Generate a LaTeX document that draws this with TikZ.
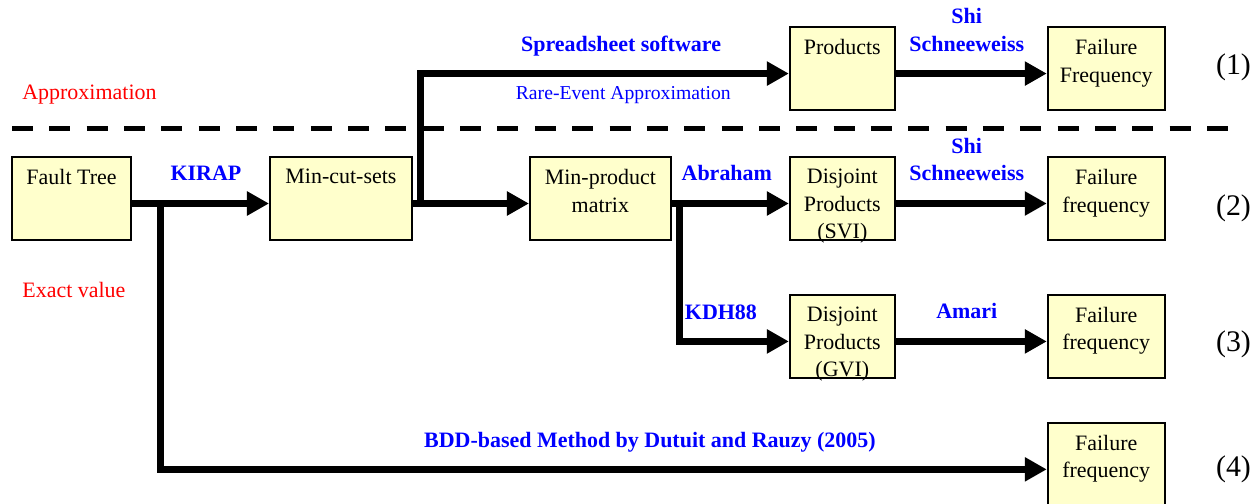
\documentclass[tikz,border=0pt]{standalone}
\usepackage{fontspec}
\setmainfont{Liberation Serif}
\usetikzlibrary{arrows.meta, positioning}

\definecolor{boxfill}{RGB}{255,255,204}

\begin{document}
\begin{tikzpicture}[
    box/.style={draw, rectangle, fill=boxfill, minimum width=2.1cm, minimum height=1.66cm, line width=1.1pt, inner sep=0pt},
    boxtxt/.style={anchor=north, align=center, inner sep=0pt, font=\fontsize{12.5}{15.6}\selectfont},
    arr/.style={-{Triangle[length=0.44cm, width=0.46cm]}, line width=0.14cm},
    lbl/.style={anchor=south, align=center, inner sep=0pt, text depth=0pt, text=blue, font=\fontsize{12.5}{15.6}\selectfont\bfseries},
    note/.style={inner sep=0pt, text=blue, font=\fontsize{11.2}{13}\selectfont},
    zone/.style={anchor=base west, inner sep=0pt, text=red, font=\fontsize{12.5}{15}\selectfont},
    rownum/.style={anchor=west, inner sep=0pt, font=\fontsize{17}{20}\selectfont}
]
    \useasboundingbox (0,0) rectangle (25.2,-10.08);

    % Main row (2)
    \node[box, minimum width=2.38cm] (ft) at (1.43,-3.97) {};
    \node[box, minimum width=2.84cm, right=2.74cm of ft] (mcs) {};
    \node[box, minimum width=2.82cm, right=2.32cm of mcs] (mpm) {};
    \node[box, right=2.34cm of mpm] (svi) {};
    \node[box, minimum width=2.34cm, right=3.02cm of svi] (ff2) {};

    % Row (1)
    \node[box, above=0.9cm of svi] (prod) {};
    \node[box, minimum width=2.34cm, above=0.9cm of ff2] (ff1) {};

    % Rows (3) and (4)
    \node[box, below=1.06cm of svi] (gvi) {};
    \node[box, minimum width=2.34cm, below=1.06cm of ff2] (ff3) {};
    \node[box, minimum width=2.34cm, below=0.86cm of ff3] (ff4) {};

    % Box texts
    \node[boxtxt] (ft-txt) at ([yshift=-0.26cm]ft.north) {Fault Tree};
    \node[boxtxt] (mcs-txt) at ([yshift=-0.26cm]mcs.north) {Min-cut-sets};
    \node[boxtxt] (mpm-txt) at ([yshift=-0.26cm]mpm.north) {Min-product\\matrix};
    \node[boxtxt] (svi-txt) at ([yshift=-0.26cm]svi.north) {Disjoint\\Products\\(SVI)};
    \node[boxtxt] (ff2-txt) at ([yshift=-0.26cm]ff2.north) {Failure\\frequency};
    \node[boxtxt] (prod-txt) at ([yshift=-0.26cm]prod.north) {Products};
    \node[boxtxt] (ff1-txt) at ([yshift=-0.26cm]ff1.north) {Failure\\Frequency};
    \node[boxtxt] (gvi-txt) at ([yshift=-0.26cm]gvi.north) {Disjoint\\Products\\(GVI)};
    \node[boxtxt] (ff3-txt) at ([yshift=-0.26cm]ff3.north) {Failure\\frequency};
    \node[boxtxt] (ff4-txt) at ([yshift=-0.26cm]ff4.north) {Failure\\frequency};

    % Separator
    \coordinate (sepL) at (0.24,-2.58);
    \coordinate (sepR) at (24.56,-2.58);
    \draw[line width=0.1cm, dash pattern=on 0.42cm off 0.3269cm] (sepL) -- (sepR);
    \node[zone] (approx) at (0.44,-2.0) {Approximation};
    \node[zone] (exact) at (0.44,-5.94) {Exact value};

    % Straight arrows
    \draw[arr] ([yshift=-1mm]ft.east) -- node[lbl, pos=0.54, yshift=0.38cm] (kirap) {KIRAP} ([yshift=-1mm]mcs.west);
    \draw[arr] ([yshift=-1mm]mcs.east) -- ([yshift=-1mm]mpm.west);
    \draw[arr] ([yshift=-1mm]mpm.east) -- node[lbl, pos=0.47, yshift=0.38cm] (abraham) {Abraham} ([yshift=-1mm]svi.west);
    \draw[arr] ([yshift=-1mm]svi.east) -- node[lbl, pos=0.47, yshift=0.38cm] (shi2) {Shi\\Schneeweiss} ([yshift=-1mm]ff2.west);
    \draw[arr] ([yshift=-1mm]prod.east) -- node[lbl, pos=0.47, yshift=0.38cm] (shi1) {Shi\\Schneeweiss} ([yshift=-1mm]ff1.west);
    \draw[arr] ([yshift=-1mm]gvi.east) -- node[lbl, pos=0.47, yshift=0.38cm] (amari) {Amari} ([yshift=-1mm]ff3.west);

    % Branches
    \coordinate (fork1) at ([xshift=0.58cm, yshift=-1mm]ft.east);
    \coordinate (fork2) at ([xshift=0.16cm, yshift=-1mm]mcs.east);
    \coordinate (fork3) at ([xshift=0.15cm, yshift=-1mm]mpm.east);
    \draw[arr] (fork2) |- node[lbl, pos=0.772, yshift=0.38cm] (sprd) {Spreadsheet software}
        node[note, pos=0.775, anchor=north, yshift=-0.18cm] (rare) {Rare-Event Approximation} ([yshift=-1mm]prod.west);
    \draw[arr] (fork3) |- node[lbl, pos=0.69, yshift=0.36cm] (kdh) {KDH88} ([yshift=-1mm]gvi.west);
    \draw[arr] (fork1) |- node[lbl, pos=0.776, yshift=0.36cm] (bdd) {BDD-based Method by Dutuit and Rauzy (2005)} ([yshift=-1mm]ff4.west);

    % Row numbers
    \node[rownum, right=1.0cm of ff1, yshift=0.03cm] (n1) {(1)};
    \node[rownum, right=1.0cm of ff2, yshift=-0.2cm] (n2) {(2)};
    \node[rownum, right=1.0cm of ff3, yshift=-0.15cm] (n3) {(3)};
    \node[rownum, right=1.0cm of ff4, yshift=-0.1cm] (n4) {(4)};
\end{tikzpicture}
\end{document}
